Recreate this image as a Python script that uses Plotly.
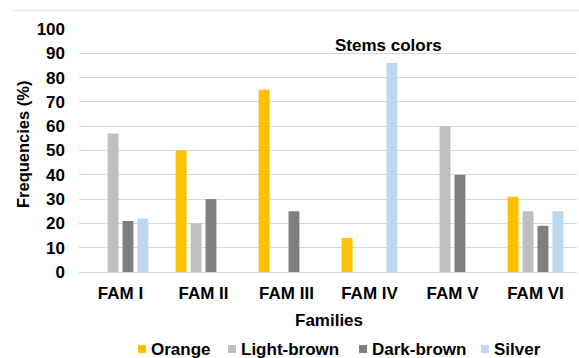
import plotly.graph_objects as go

families = ["FAM I", "FAM II", "FAM III", "FAM IV", "FAM V", "FAM VI"]
orange = [0, 50, 75, 14, 0, 31]
light_brown = [57, 20, 0, 0, 60, 25]
dark_brown = [21, 30, 25, 0, 40, 19]
silver = [22, 0, 0, 86, 0, 25]
y_ticks = [0, 10, 20, 30, 40, 50, 60, 70, 80, 90, 100]

series = [
    ("Orange", orange, "#FFC000"),
    ("Light-brown", light_brown, "#BFBFBF"),
    ("Dark-brown", dark_brown, "#7F7F7F"),
    ("Silver", silver, "#BDD7EE"),
]

FONT = "Liberation Sans, Arial, sans-serif"

# plot area geometry in pixels (used to place titles and the hand-made legend)
W, H = 579, 358
L, R, T, B = 79, 2, 29, 86
PW, PH = W - L - R, H - T - B


def px_x(px):
    return (px - L) / PW


def px_y(py):
    return (H - B - py) / PH


fig = go.Figure()
for name, vals, color in series:
    fig.add_trace(go.Bar(x=families, y=vals, name=name,
                         marker=dict(color=color, line=dict(width=0))))

annotations = [
    dict(text="Stems colors", xref="paper", yref="paper", x=px_x(388), y=px_y(45),
         xanchor="center", yanchor="middle",
         showarrow=False, font=dict(size=17, weight="bold")),
    dict(text="Frequencies (%)", xref="paper", yref="paper", x=px_x(23), y=px_y(145),
         xanchor="center", yanchor="middle",
         textangle=-90, showarrow=False, font=dict(size=16.5, weight="bold")),
    dict(text="Families", xref="paper", yref="paper", x=px_x(329), y=px_y(320),
         xanchor="center", yanchor="middle",
         showarrow=False, font=dict(size=17, weight="bold")),
]
shapes = [
    dict(type="line", xref="paper", yref="paper", x0=px_x(13), x1=px_x(580),
         y0=px_y(10.5), y1=px_y(10.5), line=dict(color="#EBEBEB", width=1.3)),
]

# legend: colour square followed by the series name
legend_sq = [138, 228, 359, 481]
legend_y = 349
for (name, _, color), sx in zip(series, legend_sq):
    shapes.append(dict(type="rect", xref="paper", yref="paper",
                       x0=px_x(sx), x1=px_x(sx + 8),
                       y0=px_y(legend_y + 4), y1=px_y(legend_y - 4),
                       fillcolor=color, line=dict(width=0)))
    annotations.append(dict(text=name, xref="paper", yref="paper",
                            x=px_x(sx + 11), y=px_y(legend_y),
                            xanchor="left", yanchor="middle", showarrow=False,
                            font=dict(size=17, weight="bold")))

fig.update_layout(
    width=W, height=H,
    margin=dict(l=L, r=R, t=T, b=B, autoexpand=False),
    paper_bgcolor="white", plot_bgcolor="white",
    barmode="group", bargap=0.28, bargroupgap=0.27,
    font=dict(family=FONT, color="#000000", size=17, weight="bold"),
    showlegend=False,
    xaxis=dict(showgrid=False, showline=False, ticks="", ticklabelstandoff=9,
               tickfont=dict(size=17, weight="bold")),
    yaxis=dict(range=[0, 100], tickvals=y_ticks, showgrid=True, gridcolor="#D9D9D9",
               gridwidth=1.3, zeroline=True, zerolinecolor="#D9D9D9", zerolinewidth=1.3,
               showline=False, ticks="", ticklabelstandoff=13,
               tickfont=dict(size=17, weight="bold")),
    annotations=annotations,
    shapes=shapes,
)

fig.write_html("out.html")
